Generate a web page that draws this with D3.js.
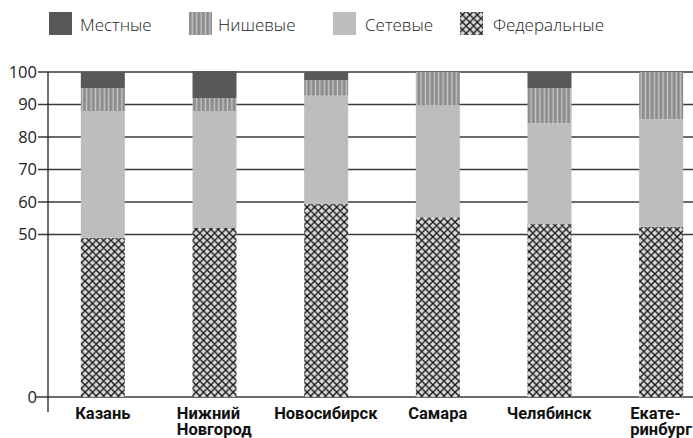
<!DOCTYPE html>
<html>
<head>
<meta charset="utf-8">
<script src="https://cdn.jsdelivr.net/npm/d3@7"></script>
<style>
  body { margin: 0; background: #fff; }
  text { font-family: "Open Sans", "Noto Sans", sans-serif; }
</style>
</head>
<body>
<div id="chart"></div>
<script>
// data
var cities = [["Казань"], ["Нижний", "Новгород"], ["Новосибирск"], ["Самара"], ["Челябинск"], ["Екате-", "ринбург"]];
var federal = [49, 52, 59.4, 55.3, 53.2, 52.4];
var chain = [39, 36, 33.3, 34.5, 31, 33.1];
var niche = [7, 4, 4.8, 10.2, 10.8, 14.5];
var local = [5, 8.3, 2.5, 0, 5, 0];
var yTicks = [0, 50, 60, 70, 80, 90, 100];
var seriesNames = ["Местные", "Нишевые", "Сетевые", "Федеральные"];

var svgWidth = 693;
var svgHeight = 438;

var svg = d3.select("#chart")
  .append("svg")
  .attr("width", svgWidth)
  .attr("height", svgHeight);

// patterns
var defs = svg.append("defs");
var stripes = defs.append("pattern")
  .attr("id", "stripes")
  .attr("patternUnits", "userSpaceOnUse")
  .attr("width", 4.4)
  .attr("height", 10);
stripes.append("rect").attr("width", 4.4).attr("height", 10).attr("fill", "#8c8c8e");
stripes.append("rect").attr("x", 2.4).attr("width", 1.4).attr("height", 10).attr("fill", "#c6c6c8");

var hatch = defs.append("pattern")
  .attr("id", "hatch")
  .attr("patternUnits", "userSpaceOnUse")
  .attr("width", 7.4)
  .attr("height", 7.4);
hatch.append("rect").attr("width", 7.4).attr("height", 7.4).attr("fill", "#d9d9da");
hatch.append("path")
  .attr("d", "M0,3.7 L3.7,0 L7.4,3.7 L3.7,7.4 Z")
  .attr("fill", "none")
  .attr("stroke", "#111")
  .attr("stroke-width", 1.3);

var fills = {
  "Местные": "#58585a",
  "Нишевые": "url(#stripes)",
  "Сетевые": "#bcbdbf",
  "Федеральные": "url(#hatch)"
};

// scales
var x = d3.scaleBand()
  .domain(d3.range(cities.length))
  .range([47, 717])
  .paddingInner(0.606)
  .paddingOuter(0.303);

var y = d3.scaleLinear()
  .domain([0, 100])
  .range([397, 72]);

// grid lines
svg.append("g")
  .selectAll("line")
  .data(yTicks)
  .enter()
  .append("line")
  .attr("x1", d => d === 0 ? 36 : 38)
  .attr("x2", svgWidth)
  .attr("y1", d => y(d))
  .attr("y2", d => y(d))
  .attr("stroke", "#3a3a3a")
  .attr("stroke-width", 1.4);

// y axis line
svg.append("line")
  .attr("x1", 48).attr("x2", 48)
  .attr("y1", y(100)).attr("y2", 412)
  .attr("stroke", "#222")
  .attr("stroke-width", 1.3);

// tick labels
svg.append("g")
  .selectAll("text")
  .data(yTicks)
  .enter()
  .append("text")
  .attr("x", 37)
  .attr("y", d => y(d))
  .attr("dy", "0.35em")
  .attr("text-anchor", "end")
  .attr("font-size", "16.5px")
  .attr("fill", "#222")
  .text(d => d);

// stacked bars, bottom to top
var rows = cities.map(function(c, i) {
  return { i: i, "Федеральные": federal[i], "Сетевые": chain[i], "Нишевые": niche[i], "Местные": local[i] };
});
var stack = d3.stack().keys(["Федеральные", "Сетевые", "Нишевые", "Местные"]);
var layers = stack(rows);

svg.append("g")
  .selectAll("g")
  .data(layers)
  .enter()
  .append("g")
  .attr("fill", d => fills[d.key])
  .selectAll("rect")
  .data(d => d)
  .enter()
  .append("rect")
  .attr("x", d => x(d.data.i))
  .attr("width", x.bandwidth())
  .attr("y", d => y(d[1]))
  .attr("height", d => y(d[0]) - y(d[1]));

// category labels, lines left aligned, block centred under the bar
var catLabels = svg.append("g")
  .selectAll("text")
  .data(cities)
  .enter()
  .append("text")
  .style("font-family", "Roboto, sans-serif")
  .attr("font-size", "16.5px")
  .attr("font-weight", "bold")
  .attr("fill", "#111");

catLabels.each(function(lines, i) {
  var t = d3.select(this);
  lines.forEach(function(line, k) {
    t.append("tspan")
      .attr("x", 0)
      .attr("y", 419 + k * 16)
      .text(line);
  });
  var w = this.getBBox().width;
  t.selectAll("tspan").attr("x", x(i) + x.bandwidth() / 2 - w / 2);
});

// legend
var legendX = [49, 189, 333, 460];
var legendText = [80, 218, 365, 493];
var legend = svg.append("g");
seriesNames.forEach(function(name, i) {
  legend.append("rect")
    .attr("x", legendX[i])
    .attr("y", 12)
    .attr("width", 23)
    .attr("height", 23)
    .attr("fill", fills[name]);
  legend.append("text")
    .attr("x", legendText[i])
    .attr("y", 31)
    .attr("font-size", "17px")
    .attr("font-weight", 300)
    .attr("fill", "#222")
    .text(name);
});
</script>
</body>
</html>
